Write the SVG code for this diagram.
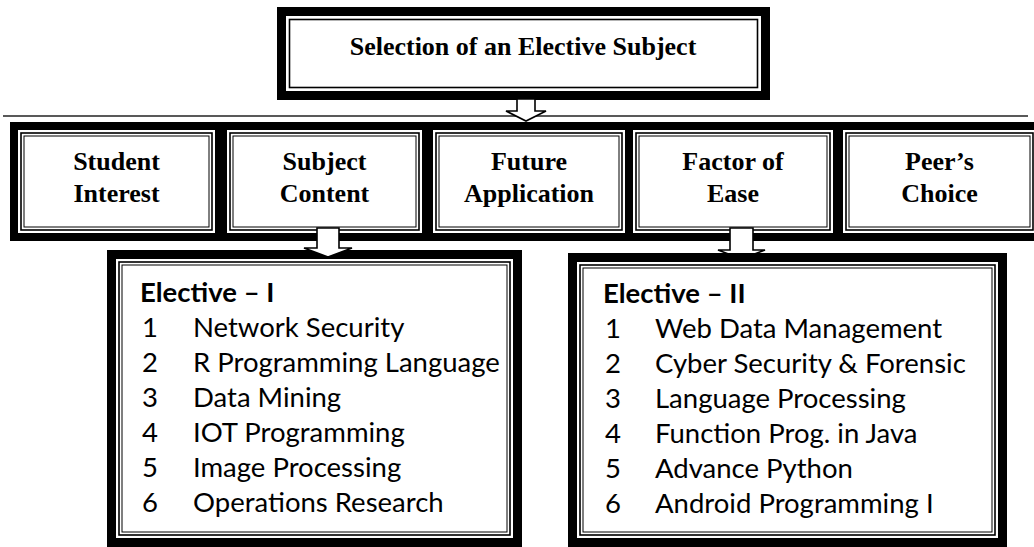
<svg xmlns="http://www.w3.org/2000/svg" width="1034" height="547" viewBox="0 0 1034 547">
<style>
.thick{fill:#fff;stroke:#000;stroke-width:9}
.thin{fill:none;stroke:#000;stroke-width:1.6}
.thin2{fill:none;stroke:#000;stroke-width:1}
.hd{font-family:"Liberation Serif","Times New Roman",serif;font-weight:bold;font-size:26px;text-anchor:middle;fill:#000}
.li{font-family:Lato,"Open Sans",sans-serif;font-size:27.5px;fill:#000}
.lb{font-family:Lato,"Open Sans",sans-serif;font-size:27.5px;font-weight:bold;fill:#000}
.arrow{fill:#fff;stroke:#000;stroke-width:1.6;stroke-linejoin:miter}
</style>
<rect width="1034" height="547" fill="#fff"/>
<g id="connectors">
<line x1="3" y1="116" x2="1028" y2="116" stroke="#222" stroke-width="1.6"/>
</g>
<g id="top">
<rect class="thick" x="281.5" y="11.5" width="484" height="84"/>
<rect class="thin" x="289.5" y="19.5" width="468" height="68"/>
<text class="hd" x="523" y="55">Selection of an Elective Subject</text>
</g>
<g id="arrow-top"><path class="arrow" d="M517,99 V111 H506 L526,121 L546,111 H535 V99 Z"/></g>
<g id="row">
<rect x="10" y="122" width="1040" height="119" fill="#000"/>
</g>
<g id="student">
<rect x="18" y="130" width="197" height="103" fill="#fff"/>
<rect class="thin" x="21" y="133" width="191" height="97"/>
<rect class="thin2" x="24" y="136" width="185" height="91"/>
<text class="hd" x="116.5" y="170">Student</text>
<text class="hd" x="116.5" y="202">Interest</text>
</g>
<g id="subject">
<rect x="227" y="130" width="195" height="103" fill="#fff"/>
<rect class="thin" x="230" y="133" width="189" height="97"/>
<rect class="thin2" x="233" y="136" width="183" height="91"/>
<text class="hd" x="324.5" y="170">Subject</text>
<text class="hd" x="324.5" y="202">Content</text>
</g>
<g id="future">
<rect x="433" y="130" width="192" height="103" fill="#fff"/>
<rect class="thin" x="436" y="133" width="186" height="97"/>
<rect class="thin2" x="439" y="136" width="180" height="91"/>
<text class="hd" x="529" y="170">Future</text>
<text class="hd" x="529" y="202">Application</text>
</g>
<g id="factor">
<rect x="633" y="130" width="200" height="103" fill="#fff"/>
<rect class="thin" x="636" y="133" width="194" height="97"/>
<rect class="thin2" x="639" y="136" width="188" height="91"/>
<text class="hd" x="733" y="170">Factor of</text>
<text class="hd" x="733" y="202">Ease</text>
</g>
<g id="peer">
<rect x="843" y="130" width="193" height="103" fill="#fff"/>
<rect class="thin" x="846" y="133" width="187" height="97"/>
<rect class="thin2" x="849" y="136" width="181" height="91"/>
<text class="hd" x="939.5" y="170">Peer’s</text>
<text class="hd" x="939.5" y="202">Choice</text>
</g>
<g id="arrow-ease"><path class="arrow" d="M730,228 V250 H718 L741.5,259 L765,250 H753 V228 Z"/></g>
<g id="elective1">
<rect class="thick" x="111.5" y="254.5" width="406" height="288"/>
<rect class="thin" x="119" y="262" width="391" height="273"/>
<rect class="thin2" x="122" y="265" width="385" height="267"/>
<text class="lb" x="140" y="302">Elective – I</text>
<text class="li" x="142" y="337">1</text><text class="li" x="193" y="337">Network Security</text>
<text class="li" x="142" y="372">2</text><text class="li" x="193" y="372">R Programming Language</text>
<text class="li" x="142" y="407">3</text><text class="li" x="193" y="407">Data Mining</text>
<text class="li" x="142" y="442">4</text><text class="li" x="193" y="442">IOT Programming</text>
<text class="li" x="142" y="477">5</text><text class="li" x="193" y="477">Image Processing</text>
<text class="li" x="142" y="512">6</text><text class="li" x="193" y="512">Operations Research</text>
</g>
<g id="arrow-content"><path class="arrow" d="M317,228 V248 H304 L328,257 L352,248 H339 V228 Z"/></g>
<g id="elective2">
<rect class="thick" x="572.5" y="257.5" width="430" height="285"/>
<rect class="thin" x="580" y="265" width="415" height="270"/>
<rect class="thin2" x="583" y="268" width="409" height="264"/>
<text class="lb" x="603" y="303">Elective – II</text>
<text class="li" x="605" y="338">1</text><text class="li" x="655" y="338">Web Data Management</text>
<text class="li" x="605" y="373">2</text><text class="li" x="655" y="373">Cyber Security &amp; Forensic</text>
<text class="li" x="605" y="408">3</text><text class="li" x="655" y="408">Language Processing</text>
<text class="li" x="605" y="443">4</text><text class="li" x="655" y="443">Function Prog. in Java</text>
<text class="li" x="605" y="478">5</text><text class="li" x="655" y="478">Advance Python</text>
<text class="li" x="605" y="513">6</text><text class="li" x="655" y="513">Android Programming I</text>
</g>
</svg>
